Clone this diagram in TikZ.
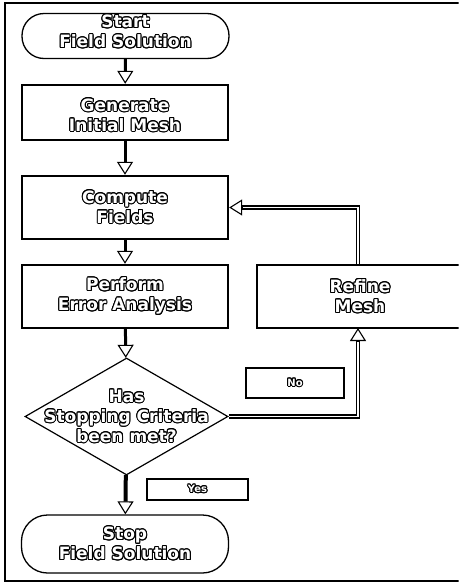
\documentclass[tikz,border=0pt]{standalone}
\usepackage{fontspec}
\setsansfont{DejaVu Sans}
\usepackage{contour}
\contourlength{1pt}
\usetikzlibrary{arrows.meta,shapes.geometric,calc}
\newcommand{\otx}[1]{\contour{black}{\textcolor{white}{#1}}}
\begin{document}
\begin{tikzpicture}[x=1pt,y=-1pt,
  txt/.style={font=\sffamily\bfseries\fontsize{17}{20}\selectfont, align=center},
  term/.style={txt, draw, line width=1.3pt, rounded corners=22pt, minimum width=207pt, fill=white},
  proc/.style={txt, draw, line width=2.4pt, minimum width=206pt, fill=white},
  lbl/.style={draw, line width=1.3pt, fill=white, font=\sffamily\bfseries\fontsize{10}{12}\selectfont},
  flow/.style={line width=3pt, -{Triangle[open, line width=1.1pt, width=16pt, length=13pt]}},
  headonly/.style={line width=1.1pt, -{Triangle[open, width=16pt, length=13pt]}},
]
\useasboundingbox (0,0) rectangle (459,584);
\clip (0,0) rectangle (458.5,584);
\draw[line width=1.2pt] (462,3) -- (5,3) -- (5,581) -- (462,581);

\node[term, minimum height=45pt, label={[txt, yshift=4pt]center:{\otx{Start}\\\otx{Field Solution}}}] (start) at (125.5,36) {};
\node[proc, minimum height=55pt, label={[txt, yshift=-3pt]center:{\otx{Generate}\\\otx{Initial Mesh}}}] (gen) at (125,112.5) {};
\node[proc, minimum height=63pt] (comp) at (125,207.5) {\otx{Compute}\\\otx{Fields}};
\node[proc, minimum height=63pt] (perf) at (125,296.5) {\otx{Perform}\\\otx{Error Analysis}};
\node[diamond, draw, line width=1.2pt, fill=white, minimum width=203pt, minimum height=117pt, inner sep=0pt,
  label={[txt]center:{\otx{Has}\\\otx{Stopping Criteria}\\\otx{been met?}}}] (dec) at (126.5,416.5) {};
\node[term, minimum height=58pt, rounded corners=26pt] (stop) at (125,544) {\otx{Stop}\\\otx{Field Solution}};
\node[proc, line width=1.3pt, minimum width=230pt, minimum height=63pt,
  label={[txt, xshift=-12pt]center:{\otx{Refine}\\\otx{Mesh}}}] (refine) at (372,296.5) {};
\node[lbl, minimum width=98pt, minimum height=30pt] (no) at (295,383) {\otx{No}};
\node[lbl, minimum width=101pt, minimum height=21pt] (yes) at (197.5,489.5) {\otx{Yes}};

\coordinate (rtop) at (358,265);
\coordinate (rbot) at (358,328);

\draw[flow] (start) -- (gen);
\draw[flow] (gen) -- (comp);
\draw[flow] (comp) -- (perf);
\draw[flow] (perf) -- (dec);
\draw[flow, line width=4pt] (dec) -- (stop);

% feedback: refine -> compute
\draw[line width=4.5pt, shorten >=12pt] (rtop) |- (comp.east);
\draw[white, line width=1.8pt, shorten >=11pt, shorten <=1.5pt] (rtop) |- (comp.east);
\draw[headonly] ($(comp.east)+(13,0)$) -- (comp.east);

% no: decision -> refine
\draw[line width=4.5pt, shorten >=12pt] (dec.east) -| (rbot);
\draw[white, line width=1.8pt, shorten >=11pt, shorten <=0.5pt] (dec.east) -| (rbot);
\draw[headonly] ($(rbot)+(0,13)$) -- (rbot);
\end{tikzpicture}
\end{document}
